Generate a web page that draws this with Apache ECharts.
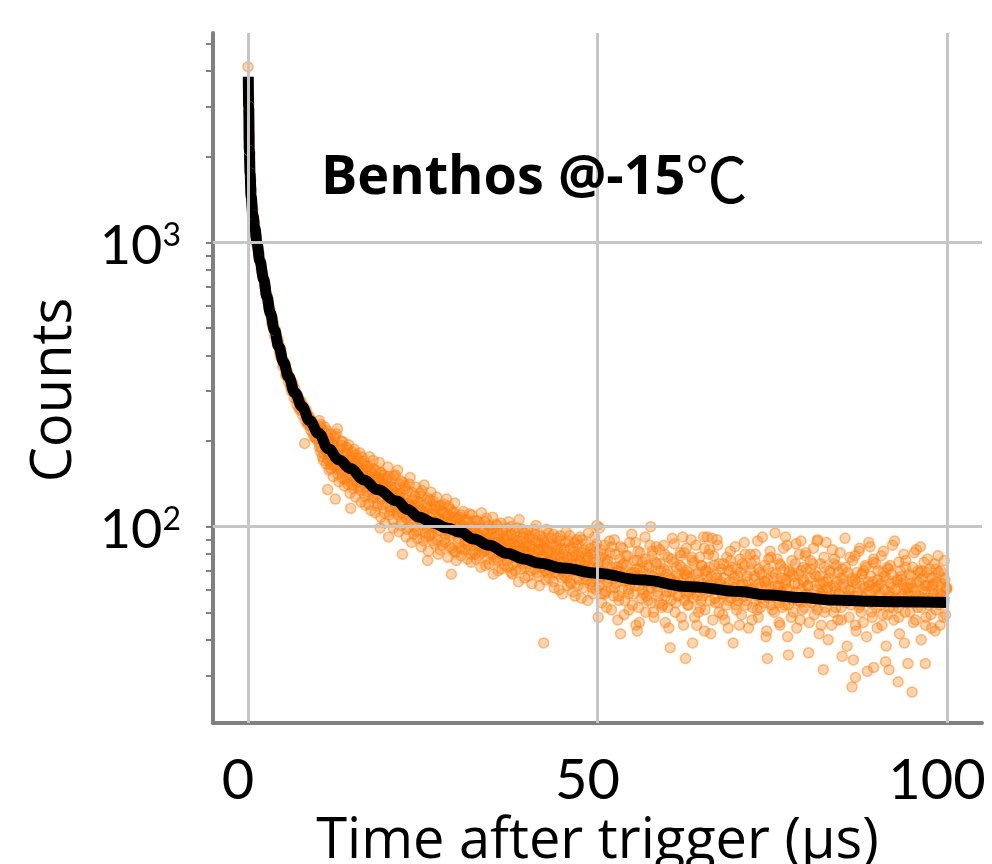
<!DOCTYPE html>
<html><head><meta charset="utf-8">
<script src="https://cdn.jsdelivr.net/npm/echarts@6/dist/echarts.min.js"></script>
<style>html,body{margin:0;padding:0;background:#fff}#c{width:992px;height:864px}</style>
</head><body><div id="c"></div>
<script>
const titleMain = 'Benthos @-15';
const titleUnit = '℃';
const xName = 'Time after trigger (µs)';
const yName = 'Counts';
const xTickValues = [0, 50, 100];
const yLabelValues = [100, 1000];
const yMinorTicks = [30,40,50,60,70,80,90,100,200,300,400,500,600,700,800,900,1000,2000,3000,4000,5000];

// fitted decay curve (time µs, counts)
const fitCurve = [[0.05,3820],[0.1,3000],[0.2,2100],[0.3,1750],[0.45,1450],[0.7,1250],[1.0,1120],[1.3,990],[1.7,860],[2.26,740],[2.7,645],[3.2,563],[3.8,490],[4.4,430],[5.1,378],[5.8,337],[6.7,296],[7.75,264],[8.8,236],[10.1,213],[11.5,188],[13,172],[14.66,160],[16.6,146],[18.5,135],[21.3,123],[22.8,115],[24.5,108],[26.5,103],[28.5,99],[30.4,95.5],[32.3,90.5],[34.5,86],[37.1,80.5],[39.5,77],[41.8,74.3],[45,71.5],[49.9,68.6],[56.1,65],[63.3,61.5],[70.4,59.1],[74.3,57.5],[79,56.3],[83.8,55.2],[88.5,54.7],[93.3,54.4],[100.3,54.1]];

// measured counts (time µs, counts)
const countsEarly = [[0,4140],[0.1,3050],[0.2,2330],[0.3,2060],[0.4,1660],[0.5,1530],[0.6,1350],[0.7,1310],[0.8,1190],[0.9,1180],[1,1090],[1.1,1050],[1.2,1045],[1.3,975],[1.4,950],[1.5,905],[1.6,915],[1.7,860],[1.8,845],[1.9,800],[2,790],[2.1,770],[2.2,745],[2.3,735],[2.4,700],[2.5,690],[2.6,650],[2.7,655],[2.8,625],[2.9,612],[3,590],
[3.2,575],[3.3,548],[3.4,520],[3.5,541],[3.6,522],[3.7,497],[3.8,470],[3.9,493],[4,480],[4.1,452],[4.2,436],[4.3,455],[4.4,440],[4.5,412],[4.6,398],[4.7,420],[4.8,405],[4.9,388],[5,366],[5.1,372],[5.2,380],[5.3,372],[5.4,342],[5.5,338],[5.6,352],[5.7,345],[5.8,322],[5.9,335],[6,333],[6.1,310],[6.2,300],[6.3,322],[6.4,318],[6.5,298],[6.6,284],[6.7,306],[6.8,295],[6.9,280],[7,268],[7.1,290],[7.2,284],[7.3,262],[7.4,258],[7.5,277],[7.6,275],[7.7,255],[7.8,247],[7.9,266],[8,262],[8.1,196],[8.2,236],[8.3,258],[8.4,250],[8.5,232],[8.6,228],[8.7,246],[8.8,241],[8.9,226],[9,218],[9.1,236],[9.2,232],[9.3,214],[9.4,207],[9.5,228],[9.6,224],[9.7,205],[9.8,203],[9.9,220],[10,216]];
const countsMid = [[10.2,236],[10.4,183],[10.6,218],[10.8,171],[11,224],[11.2,166],[11.4,135],[11.5,205],[11.6,158],[11.8,212],[12,176],[12.2,150],[12.4,204],[12.5,125],[12.6,163],[12.8,221],[13,144],[13.2,188],[13.4,157],[13.6,199],[13.8,139],[14,180],[14.2,146],[14.4,194],[14.6,131],[14.7,116],[14.8,171],[15,150],[15.2,187],[15.4,127],[15.6,163],[15.8,138],[16,182],[16.2,122],[16.4,159],[16.6,170],[16.8,119],[17,151],[17.2,129],[17.4,176],[17.6,114],[17.8,147],[18,160],[18.2,112],[18.4,142],[18.6,121],[18.8,168],[18.9,99],[19,108],[19.2,139],[19.4,152],[19.6,103],[19.8,134],[20,162],[20.1,92],[20.2,110],[20.4,129],[20.6,146],[20.8,99],[21,137],[21.2,115],[21.4,158],[21.6,96],[21.8,131],[22,104],[22.1,80],[22.2,143],[22.4,121],[22.6,92],[22.8,133],[23,109],[23.2,149],[23.4,88],[23.6,124],[23.8,100],[24,138],[24.2,91],[24.4,117],[24.6,131],[24.8,85],[25,112],[25.2,140],[25.4,95],[25.6,121],[25.7,76],[25.8,82],[26,108],[26.2,132],[26.4,89],[26.6,115],[26.8,99],[27,127],[27.2,80],[27.4,106],[27.6,119],[27.8,86],[28,111],[28.2,94],[28.4,125],[28.6,78],[28.8,102],[29,115],[29.1,68],[29.2,84],[29.4,108],[29.6,121],[29.8,76],[30,99],
[30.2,108],[30.4,84],[30.6,99],[30.8,113],[31,88],[31.2,95],[31.4,77],[31.6,104],[31.8,91],[32,110],[32.2,82],[32.4,97],[32.6,86],[32.8,105],[33,79],[33.2,93],[33.4,112],[33.6,84],[33.8,98],[34,73],[34.2,90],[34.4,101],[34.6,81],[34.8,94],[35,108],[35.2,76],[35.4,88],[35.6,97],[35.8,70],[36,85],[36.2,103],[36.4,79],[36.6,91],[36.8,83],[37,99],[37.2,72],[37.4,87],[37.6,94],[37.8,68],[38,82],[38.2,96],[38.4,75],[38.6,89],[38.8,106],[39,71],[39.2,84],[39.4,92],[39.6,66],[39.8,80],[40,97],[40.2,74],[40.4,86],[40.6,63],[40.8,90],[41,78],[41.2,101],[41.4,69],[41.6,83],[41.8,93],[42,72],[42.2,79],[42.3,39],[42.4,88],[42.6,65],[42.8,81],[43,95],[43.2,70],[43.4,77],[43.6,86],[43.8,61],[44,79],[44.2,91],[44.4,68],[44.6,74],[44.8,84],[45,58],[45.2,76],[45.4,88],[45.6,66],[45.8,72],[46,93],[46.2,63],[46.4,78],[46.6,82],[46.8,57],[47,71],[47.2,86],[47.4,65],[47.6,75],[47.8,90],[48,61],[48.2,73],[48.4,80],[48.6,55],[48.8,69],[49,84],[49.2,64],[49.4,77],[49.6,92],[49.8,60],[49.9,101],[50,71],[50.1,48],[50.3,99]];
const countsMid2 = [[10.1,198],[10.3,225],[10.5,190],[10.7,207],[10.9,180],[11.1,214],[11.3,185],[11.5,172],[11.7,199],[11.9,165],[12.1,195],[12.3,171],[12.5,208],[12.7,160],[12.9,186],[13.1,168],[13.3,200],[13.5,148],[13.7,179],[13.9,162],[14.1,190],[14.3,141],[14.5,172],[14.7,158],[14.9,183],[15.1,136],[15.3,166],[15.5,174],[15.7,143],[15.9,161],[16.1,134],[16.3,176],[16.5,150],[16.7,128],[16.9,163],[17.1,146],[17.3,120],[17.5,158],[17.7,135],[17.9,171],[18.1,127],[18.3,150],[18.5,118],[18.7,144],[18.9,155],[19.1,125],[19.3,147],[19.5,112],[19.7,140],[19.9,121],[20.1,150],[20.3,117],[20.5,138],[20.7,106],[20.9,130],[21.1,152],[21.3,112],[21.5,127],[21.7,141],[21.9,101],[22.1,122],[22.3,110],[22.5,136],[22.7,98],[22.9,120],[23.1,141],[23.3,105],[23.5,116],[23.7,94],[23.9,128],[24.1,112],[24.3,97],[24.5,122],[24.7,104],[24.9,134],[25.1,89],[25.3,113],[25.5,101],[25.7,126],[25.9,93],[26.1,117],[26.3,100],[26.5,123],[26.7,87],[26.9,109],[27.1,96],[27.3,118],[27.5,83],[27.7,104],[27.9,113],[28.1,90],[28.3,107],[28.5,97],[28.7,118],[28.9,85],[29.1,104],[29.3,95],[29.5,112],[29.7,81],[29.9,100],
[30.1,91],[30.3,103],[30.5,79],[30.7,95],[30.9,106],[31.1,83],[31.3,98],[31.5,89],[31.7,111],[31.9,75],[32.1,92],[32.3,100],[32.5,80],[32.7,94],[32.9,87],[33.1,103],[33.3,72],[33.5,89],[33.7,96],[33.9,82],[34.1,107],[34.3,77],[34.5,91],[34.7,85],[34.9,99],[35.1,68],[35.3,83],[35.5,102],[35.7,78],[35.9,93],[36.1,88],[36.3,71],[36.5,97],[36.7,80],[36.9,90],[37.1,76],[37.3,104],[37.5,83],[37.7,69],[37.9,91],[38.1,78],[38.3,86],[38.5,99],[38.7,64],[38.9,82],[39.1,89],[39.3,74],[39.5,95],[39.7,79],[39.9,85],[40.1,67],[40.3,93],[40.5,76],[40.7,83],[40.9,98],[41.1,71],[41.3,80],[41.5,88],[41.7,62],[41.9,77],[42.1,92],[42.3,84],[42.5,70],[42.7,98],[42.9,75],[43.1,66],[43.3,87],[43.5,79],[43.7,94],[43.9,69],[44.1,74],[44.3,83],[44.5,60],[44.7,89],[44.9,72],[45.1,80],[45.3,67],[45.5,96],[45.7,62],[45.9,77],[46.1,84],[46.3,70],[46.5,59],[46.7,88],[46.9,74],[47.1,66],[47.3,79],[47.5,92],[47.7,56],[47.9,71],[48.1,83],[48.3,67],[48.5,76],[48.7,95],[48.9,63],[49.1,72],[49.3,58],[49.5,81],[49.7,68],[49.9,87]];
const countsMid3 = [[10.05,205],[10.25,190],[10.45,229],[10.65,176],[10.85,201],[11.05,186],[11.25,218],[11.45,172],[11.65,193],[11.85,160],[12.05,197],[12.25,165],[12.45,186],[12.65,212],[12.85,153],[13.05,178],[13.25,160],[13.45,193],[13.65,171],[13.85,147],[14.05,168],[14.25,186],[14.45,152],[14.65,175],[14.85,140],[15.05,164],[15.25,145],[15.45,179],[15.65,156],[15.85,170],[16.05,138],[16.25,154],[16.45,167],[16.65,141],[16.85,158],[17.05,133],[17.25,163],[17.45,145],[17.65,155],[17.85,126],[18.05,143],[18.25,158],[18.45,130],[18.65,149],[18.85,138],[19.05,155],[19.25,119],[19.45,141],[19.65,133],[19.85,148],[20.05,126],[20.25,139],[20.45,114],[20.65,134],[20.85,151],[21.05,118],[21.25,131],[21.45,110],[21.65,128],[21.85,145],[22.05,112],[22.25,126],[22.45,139],[22.65,107],[22.85,121],[23.05,100],[23.25,118],[23.45,132],[23.65,109],[23.85,119],[24.05,96],[24.25,123],[24.45,106],[24.65,114],[24.85,128],[25.05,101],[25.25,110],[25.45,92],[25.65,116],[25.85,105],[26.05,124],[26.25,94],[26.45,111],[26.65,102],[26.85,118],[27.05,90],[27.25,108],[27.45,97],[27.65,114],[27.85,101],[28.05,120],[28.25,88],[28.45,104],[28.65,110],[28.85,93],[29.05,99],[29.25,113],[29.45,82],[29.65,101],[29.85,107],
[30.05,88],[30.25,97],[30.45,110],[30.65,83],[30.85,101],[31.05,92],[31.25,106],[31.45,86],[31.65,97],[31.85,80],[32.05,99],[32.25,89],[32.45,105],[32.65,77],[32.85,93],[33.05,86],[33.25,99],[33.45,81],[33.65,91],[33.85,104],[34.05,84],[34.25,95],[34.45,74],[34.65,88],[34.85,98],[35.05,80],[35.25,92],[35.45,85],[35.65,101],[35.85,76],[36.05,89],[36.25,81],[36.45,96],[36.65,73],[36.85,87],[37.05,93],[37.25,79],[37.45,85],[37.65,100],[37.85,74],[38.05,87],[38.25,70],[38.45,92],[38.65,80],[38.85,85],[39.05,76],[39.25,98],[39.45,82],[39.65,72],[39.85,88],[40.05,81],[40.25,91],[40.45,70],[40.65,85],[40.85,77],[41.05,94],[41.25,74],[41.45,83],[41.65,67],[41.85,87],[42.05,79],[42.25,90],[42.45,72],[42.65,84],[42.85,69],[43.05,82],[43.25,75],[43.45,91],[43.65,64],[43.85,78],[44.05,86],[44.25,71],[44.45,80],[44.65,93],[44.85,66],[45.05,75],[45.25,83],[45.45,69],[45.65,78],[45.85,89],[46.05,64],[46.25,74],[46.45,85],[46.65,70],[46.85,79],[47.05,90],[47.25,62],[47.45,76],[47.65,81],[47.85,68],[48.05,73],[48.25,87],[48.45,65],[48.65,78],[48.85,71],[49.05,80],[49.25,61],[49.45,74],[49.65,85],[49.85,66]];
const countsLate = [[50.2,62],[50.4,78],[50.6,54],[50.8,70],[51,86],[51.2,59],[51.4,74],[51.6,66],[51.8,81],[52,51],[52.2,69],[52.4,90],[52.6,63],[52.8,72],[53,57],[53.2,77],[53.3,42],[53.4,67],[53.6,84],[53.8,49],[54,65],[54.2,73],[54.4,60],[54.6,88],[54.8,68],[55,53],[55.2,76],[55.4,62],[55.6,71],[55.7,43],[55.8,82],[56,46],[56.2,67],[56.4,75],[56.6,58],[56.8,92],[57,64],[57.2,55],[57.4,72],[57.6,100],[57.7,61],[57.8,79],[58,50],[58.2,68],[58.4,85],[58.6,59],[58.8,66],[59,74],[59.2,52],[59.4,63],[59.6,80],[59.8,57],[60,70],[60.2,44],[60.4,37.5],[60.5,65],[60.6,77],[60.8,60],[61,87],[61.2,54],[61.4,68],[61.6,62],[61.8,73],[62,48],[62.2,92],[62.3,66],[62.4,81],[62.6,34.4],[62.7,58],[62.8,70],[63,53],[63.2,64],[63.4,90],[63.6,39],[63.7,56],[63.8,75],[64,61],[64.2,45],[64.4,69],[64.6,78],[64.8,55],[65,63],[65.2,92],[65.3,84],[65.4,51],[65.6,67],[65.7,92],[65.8,59],[66,72],[66.2,42],[66.4,91],[66.5,62],[66.6,79],[66.8,56],[67,68],[67.2,86],[67.4,50],[67.6,64],[67.8,58],[68,74],[68.2,47],[68.4,61],[68.6,70],[68.8,55],[69,82],[69.2,60],[69.4,39],[69.6,66],[69.8,53],[70,71],[70.2,58],[70.4,77],[70.6,49],[70.8,63],[71,88],[71.2,55],[71.4,67],[71.6,44],[71.8,60],[72,74],[72.2,52],[72.4,65],[72.6,80],[72.8,57],[73,48],[73.2,69],[73.4,61],[73.6,92],[73.8,54],[74,64],[74.2,43],[74.3,34.4],[74.4,71],[74.6,58],[74.8,78],[75,51],[75.2,66],[75.4,95],[75.6,56],[75.8,62],[76,46],[76.2,73],[76.4,59],[76.6,84],[76.8,53],[76.9,92],[77,65],[77.2,41],[77.3,35.4],[77.4,69],[77.6,57],[77.8,76],[78,50],[78.2,63],[78.4,87],[78.6,55],[78.8,68],[79,47],[79.1,89],[79.2,60],[79.4,72],[79.6,52],[79.8,81],[80,58],[80.2,36],[80.4,66],[80.6,54],[80.8,74],[81,49],[81.2,62],[81.4,89],[81.5,90],[81.6,57],[81.8,67],[82,45],[82.2,59],[82.3,31.4],[82.4,78],[82.6,52],[82.8,64],[83,40],[83.2,70],[83.4,56],[83.6,83],[83.8,50],[84,61],[84.2,73],[84.4,47],[84.6,58],[84.8,66],[85,35],[85.2,63],[85.4,91],[85.6,54],[85.8,69],[86,48],[86.2,60],[86.4,27.3],[86.5,76],[86.6,34],[86.8,65],[86.9,29.5],[87,43],[87.2,57],[87.4,82],[87.6,53],[87.8,68],[88,46],[88.2,61],[88.4,72],[88.6,31],[88.8,88],[88.9,59],[89,85],[89.2,50],[89.4,64],[89.5,32],[89.6,55],[89.8,74],[90,44],[90.2,62],[90.4,58],[90.6,79],[90.8,49],[91,67],[91.2,33.5],[91.3,38],[91.4,56],[91.6,71],[91.7,31.4],[91.8,52],[92,63],[92.2,86],[92.4,47],[92.6,60],[92.8,54],[93,28.5],[93.1,75],[93.2,42],[93.4,65],[93.6,57],[93.8,80],[94,50],[94.2,61],[94.4,33],[94.6,68],[94.8,55],[95,26.2],[95.1,72],[95.2,46],[95.4,59],[95.6,83],[95.8,52],[96,64],[96.2,85],[96.3,40],[96.4,70],[96.6,56],[96.8,62],[96.9,33],[97,48],[97.2,77],[97.4,53],[97.6,66],[97.8,44],[98,60],[98.2,74],[98.4,51],[98.6,58],[98.8,69],[99,45],[99.2,63],[99.4,55],[99.6,76],[99.8,49],[100,61]];
const countsLate2 = [[50.1,74],[50.3,66],[50.5,83],[50.7,58],[50.9,69],[51.1,77],[51.3,52],[51.5,64],[51.7,89],[51.9,61],[52.1,72],[52.3,57],[52.5,80],[52.7,66],[52.9,47],[53.1,70],[53.3,85],[53.5,60],[53.7,74],[53.9,55],[54.1,67],[54.3,79],[54.5,51],[54.7,63],[54.9,94],[55.1,58],[55.3,69],[55.5,45],[55.7,76],[55.9,62],[56.1,81],[56.3,56],[56.5,70],[56.7,64],[56.9,50],[57.1,73],[57.3,60],[57.5,86],[57.7,54],[57.9,67],[58.1,48],[58.3,75],[58.5,62],[58.7,57],[58.9,83],[59.1,65],[59.3,53],[59.5,71],[59.7,46],[59.9,68],[60.1,78],[60.3,59],[60.5,55],[60.7,91],[60.9,63],[61.1,50],[61.3,72],[61.5,66],[61.7,57],[61.9,79],[62.1,61],[62.3,45],[62.5,68],[62.7,84],[62.9,53],[63.1,69],[63.3,58],[63.5,76],[63.7,62],[63.9,48],[64.1,86],[64.3,57],[64.5,65],[64.7,52],[64.9,73],[65.1,60],[65.3,43],[65.5,70],[65.7,64],[65.9,80],[66.1,55],[66.3,67],[66.5,47],[66.7,73],[66.9,61],[67.1,90],[67.3,54],[67.5,63],[67.7,71],[67.9,49],[68.1,66],[68.3,58],[68.5,78],[68.7,44],[68.9,64],[69.1,56],[69.3,72],[69.5,61],[69.7,85],[69.9,51],[70.1,67],[70.3,45],[70.5,62],[70.7,74],[70.9,57],[71.1,80],[71.3,53],[71.5,64],[71.7,59],[71.9,70],[72.1,47],[72.3,61],[72.5,76],[72.7,55],[72.9,89],[73.1,63],[73.3,52],[73.5,68],[73.7,58],[73.9,73],[74.1,41],[74.3,65],[74.5,56],[74.7,82],[74.9,60],[75.1,69],[75.3,50],[75.5,62],[75.7,77],[75.9,54],[76.1,45],[76.3,66],[76.5,58],[76.7,71],[76.9,63],[77.1,86],[77.3,53],[77.5,60],[77.7,48],[77.9,68],[78.1,57],[78.3,74],[78.5,44],[78.7,63],[78.9,55],[79.1,70],[79.3,51],[79.5,65],[79.7,79],[79.9,58],[80.1,62],[80.3,46],[80.5,71],[80.7,56],[80.9,84],[81.1,53],[81.3,67],[81.5,60],[81.7,42],[81.9,74],[82.1,58],[82.3,64],[82.5,50],[82.7,88],[82.9,61],[83.1,55],[83.3,69],[83.5,45],[83.7,62],[83.9,77],[84.1,52],[84.3,64],[84.5,58],[84.7,81],[84.9,47],[85.1,66],[85.3,55],[85.5,72],[85.7,38],[85.9,60],[86.1,78],[86.3,53],[86.5,64],[86.7,57],[86.9,45],[87.1,69],[87.3,59],[87.5,84],[87.7,50],[87.9,62],[88.1,56],[88.3,73],[88.5,41],[88.7,64],[88.9,54],[89.1,67],[89.3,48],[89.5,77],[89.7,60],[89.9,52],[90.1,70],[90.3,57],[90.5,63],[90.7,45],[90.9,82],[91.1,54],[91.3,66],[91.5,49],[91.7,59],[91.9,73],[92.1,61],[92.3,52],[92.5,89],[92.7,56],[92.9,65],[93.1,48],[93.3,70],[93.5,58],[93.7,63],[93.9,39],[94.1,76],[94.3,54],[94.5,61],[94.7,50],[94.9,67],[95.1,57],[95.3,81],[95.5,47],[95.7,64],[95.9,55],[96.1,69],[96.3,52],[96.5,60],[96.7,75],[96.9,45],[97.1,62],[97.3,56],[97.5,71],[97.7,49],[97.9,66],[98.1,58],[98.3,43],[98.5,64],[98.7,79],[98.9,53],[99.1,70],[99.3,57],[99.5,48],[99.7,65],[99.9,60]];
const countsLate3 = [[50.05,72],[50.45,63],[50.85,80],[51.05,58],[51.45,76],[51.85,67],[52.05,85],[52.45,61],[52.85,70],[53.05,55],[53.45,73],[53.85,64],[54.05,79],[54.45,58],[54.85,69],[55.05,66],[55.45,88],[55.85,52],[56.05,71],[56.45,60],[56.85,77],[57.05,57],[57.45,68],[57.85,82],[58.05,63],[58.45,74],[58.85,54],[59.05,70],[59.45,86],[59.85,59],[60.05,52],[60.45,66],[60.85,75],[61.05,64],[61.45,57],[61.85,81],[62.05,72],[62.45,55],[62.85,67],[63.05,59],[63.45,78],[63.85,63],[64.05,68],[64.45,50],[64.85,73],[65.05,57],[65.45,70],[65.85,62],[66.05,83],[66.45,60],[66.85,54],[67.05,66],[67.45,74],[67.85,58],[68.05,61],[68.45,53],[68.85,70],[69.05,76],[69.45,64],[69.85,57],[70.05,55],[70.45,69],[70.85,62],[71.05,73],[71.45,58],[71.85,80],[72.05,60],[72.45,67],[72.85,51],[73.05,71],[73.45,56],[73.85,64],[74.05,62],[74.45,77],[74.85,53],[75.05,58],[75.45,68],[75.85,61],[76.05,74],[76.45,52],[76.85,65],[77.05,60],[77.45,70],[77.85,55],[78.05,67],[78.45,59],[78.85,80],[79.05,54],[79.45,64],[79.85,71],[80.05,62],[80.45,76],[80.85,56],[81.05,68],[81.45,51],[81.85,63],[82.05,57],[82.45,72],[82.85,60],[83.05,66],[83.45,55],[83.85,74],[84.05,59],[84.45,69],[84.85,52],[85.05,71],[85.45,61],[85.85,57],[86.05,56],[86.45,66],[86.85,79],[87.05,63],[87.45,52],[87.85,68],[88.05,70],[88.45,58],[88.85,62],[89.05,55],[89.45,75],[89.85,61],[90.05,65],[90.45,53],[90.85,69],[91.05,60],[91.45,72],[91.85,57],[92.05,68],[92.45,55],[92.85,64],[93.05,52],[93.45,67],[93.85,60],[94.05,72],[94.45,58],[94.85,63],[95.05,61],[95.45,54],[95.85,70],[96.05,57],[96.45,66],[96.85,59],[97.05,69],[97.45,55],[97.85,62],[98.05,63],[98.45,71],[98.85,56],[99.05,58],[99.45,66],[99.85,61]];

const measured = countsEarly.concat(countsMid, countsMid2, countsMid3, countsLate, countsLate2, countsLate3);

const FONT = 'Lato, "Open Sans", sans-serif';
const NAMEFONT = '"Open Sans", Lato, sans-serif';
const chart = echarts.init(document.getElementById('c'), null, {renderer: 'canvas'});
chart.setOption({
  animation: false,
  backgroundColor: '#ffffff',
  title: {
    text: '{a|' + titleMain + '}{b|' + titleUnit + '}',
    left: 316, top: 143,
    textStyle: {
      rich: {
        a: {fontFamily: NAMEFONT, fontWeight: 'bold', fontSize: 54, color: '#000'},
        b: {fontFamily: '"Noto Sans CJK SC"', fontWeight: 'normal', fontSize: 62, color: '#000'}
      }
    }
  },
  grid: {left: 213, right: 10, top: 33, bottom: 141, containLabel: false, outerBoundsMode: 'none'},
  xAxis: {
    type: 'value', min: -5, max: 105,
    name: xName, nameLocation: 'middle', nameGap: 84,
    nameTextStyle: {fontFamily: NAMEFONT, fontSize: 56, color: '#000', verticalAlign: 'top'},
    axisLine: {show: true, onZero: false, lineStyle: {color: '#808080', width: 4}},
    axisTick: {show: false},
    splitLine: {show: false},
    axisLabel: {customValues: xTickValues, fontFamily: FONT, fontSize: 56, color: '#000', margin: 30, padding: [0, 20, 0, 0]}
  },
  yAxis: {
    type: 'log', min: 20.4, max: 5443, logBase: 10,
    name: yName, nameLocation: 'middle', nameGap: 130,
    nameTextStyle: {fontFamily: NAMEFONT, fontSize: 56, color: '#000', padding: [0, 24, 0, 0]},
    axisLine: {show: true, onZero: false, lineStyle: {color: '#808080', width: 4}},
    axisTick: {show: true, customValues: yMinorTicks, length: 7, inside: false, lineStyle: {color: '#808080', width: 2}},
    splitLine: {show: false},
    minorTick: {show: false},
    axisLabel: {
      customValues: yLabelValues, margin: 32, padding: [8, 0, 0, 0],
      formatter: function (v) { return '{b|10}{s|' + Math.round(Math.log10(v)) + '}'; },
      rich: {
        b: {fontFamily: FONT, fontSize: 54, color: '#000', verticalAlign: 'bottom'},
        s: {fontFamily: FONT, fontSize: 32, color: '#000', verticalAlign: 'top', padding: [0, 0, 22, 0]}
      }
    }
  },
  series: [
    {
      type: 'line', data: [], silent: true, z: 1,
      markLine: {
        silent: true, symbol: ['none', 'none'], label: {show: false},
        lineStyle: {color: '#c6c6c6', width: 3, type: 'solid'},
        data: xTickValues.map(v => ({xAxis: v})).concat(yLabelValues.map(v => ({yAxis: v})))
      }
    },
    {
      type: 'scatter', data: measured, z: 2, symbol: 'circle', symbolSize: 10, large: false,
      itemStyle: {color: 'rgba(255,127,14,0.42)', borderColor: 'rgba(255,127,14,0.62)', borderWidth: 1.5}
    },
    {
      type: 'line', data: fitCurve, z: 3, smooth: 0.4, smoothMonotone: 'x', showSymbol: false, symbol: 'none',
      lineStyle: {color: '#000', width: 11, cap: 'butt'}
    }
  ]
});
</script></body></html>
